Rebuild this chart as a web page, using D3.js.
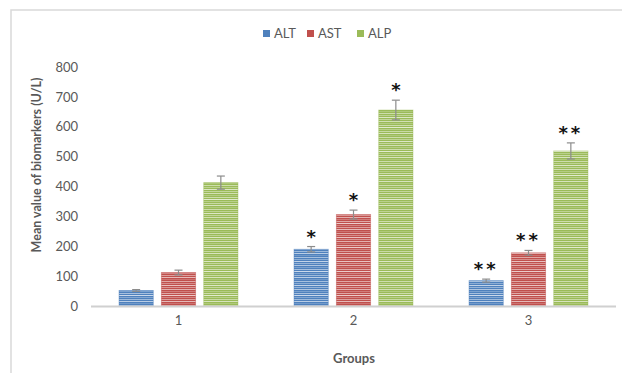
<!DOCTYPE html>
<html><head><meta charset="utf-8">
<script src="https://cdn.jsdelivr.net/npm/d3@7"></script>
<style>html,body{margin:0;padding:0;background:#fff;}svg{display:block;}</style>
</head><body>
<svg id="chart" width="622" height="373"></svg>
<script>
const groups = ["1", "2", "3"];
const seriesNames = ["ALT", "AST", "ALP"];
const ALT = [52, 190, 85];
const AST = [112, 306, 178];
const ALP = [413, 656, 519];
const ALT_err = [3, 9, 5];
const AST_err = [8, 15, 8];
const ALP_err = [22, 33, 27];
const ALT_sig = ["", "*", "**"];
const AST_sig = ["", "*", "**"];
const ALP_sig = ["", "*", "**"];
const yTicks = [0, 100, 200, 300, 400, 500, 600, 700, 800];
const colors = ["#4F81BD", "#C0504D", "#9BBB59"];

const values = [ALT, AST, ALP];
const errs = [ALT_err, AST_err, ALP_err];
const sigs = [ALT_sig, AST_sig, ALP_sig];

const svg = d3.select("#chart");
const font = "Lato, 'Open Sans', sans-serif";
const grey = "#595959";

// frame
svg.append("rect").attr("x", 11).attr("y", 10).attr("width", 640).attr("height", 400)
  .attr("fill", "none").attr("stroke", "#d9d9d9").attr("stroke-width", 1.5);

// patterns
const defs = svg.append("defs");
colors.forEach((c, i) => {
  const p = defs.append("pattern").attr("id", "pat" + i).attr("patternUnits", "userSpaceOnUse")
    .attr("width", 10).attr("height", 24);
  p.append("rect").attr("width", 10).attr("height", 24).attr("fill", c);
  const light = [0.55, 0.25, 0.5, 0.7, 0.3, 0.45, 0.6, 0.2, 0.5, 0.35, 0.65, 0.4];
  light.forEach((o, k) => {
    p.append("rect").attr("x", 0).attr("y", k * 2 + 1).attr("width", 10).attr("height", 1)
      .attr("fill", "#fff").attr("opacity", o);
  });
});

const y = d3.scaleLinear().domain([0, 800]).range([306, 67]);
const x0 = d3.scaleBand().domain(groups).range([91, 616]).paddingInner(0.32).paddingOuter(0.16);
const x1 = d3.scaleBand().domain(seriesNames).range([0, x0.bandwidth()]).paddingInner(0.19);

// y tick labels
const yAxis = d3.axisLeft(y).tickValues(yTicks).tickSize(0).tickPadding(0);
const gy = svg.append("g").attr("transform", "translate(78,0)").call(yAxis);
gy.select(".domain").remove();
gy.selectAll("text").attr("font-family", font).attr("font-size", 13).attr("fill", grey);

// bars
seriesNames.forEach((s, si) => {
  const g = svg.append("g");
  groups.forEach((grp, gi) => {
    const v = values[si][gi];
    const bx = x0(grp) + x1(s);
    g.append("rect").attr("x", bx).attr("y", y(v)).attr("width", x1.bandwidth())
      .attr("height", y(0) - y(v)).attr("fill", `url(#pat${si})`)
      .attr("stroke", colors[si]).attr("stroke-opacity", 0.5).attr("stroke-width", 0.8);
    const cx = bx + x1.bandwidth() / 2;
    const e = errs[si][gi];
    const eg = g.append("g").attr("stroke", "#8c8c8c").attr("stroke-width", 1.2);
    eg.append("line").attr("x1", cx).attr("x2", cx).attr("y1", y(v + e)).attr("y2", y(v - e));
    eg.append("line").attr("x1", cx - 4).attr("x2", cx + 4).attr("y1", y(v + e)).attr("y2", y(v + e));
    eg.append("line").attr("x1", cx - 4).attr("x2", cx + 4).attr("y1", y(v - e)).attr("y2", y(v - e));
    const sig = sigs[si][gi];
    if (sig) {
      g.append("text").attr("x", cx).attr("y", y(v + e) - 4).attr("text-anchor", "middle")
        .attr("font-family", "'DejaVu Sans', sans-serif").attr("font-size", 18).attr("font-weight", "bold")
        .attr("letter-spacing", sig.length > 1 ? 3 : 0)
        .attr("fill", "#111").text(sig);
    }
  });
});

// baseline
svg.append("line").attr("x1", 91).attr("x2", 616).attr("y1", y(0) + 0.5).attr("y2", y(0) + 0.5)
  .attr("stroke", "#d0d0d0").attr("stroke-width", 2);

// x labels
const xAxis = d3.axisBottom(x0).tickSize(0).tickPadding(0);
const gx = svg.append("g").attr("transform", "translate(0,316)").call(xAxis);
gx.select(".domain").remove();
gx.selectAll("text").attr("font-family", font).attr("font-size", 13).attr("fill", grey);

// axis titles
svg.append("text").attr("x", 354).attr("y", 363).attr("text-anchor", "middle")
  .attr("font-family", font).attr("font-size", 13).attr("font-weight", "bold").attr("fill", grey).text("Groups");
svg.append("text").attr("transform", "translate(41,165) rotate(-90)").attr("text-anchor", "middle")
  .attr("font-family", font).attr("font-size", 12.5).attr("font-weight", "bold").attr("fill", grey)
  .text("Mean value of biomarkers (U/L)");

// legend
const legX = [263, 307, 357];
seriesNames.forEach((s, i) => {
  const lg = svg.append("g").attr("transform", `translate(${legX[i]},30)`);
  lg.append("rect").attr("width", 7).attr("height", 7).attr("fill", colors[i]);
  lg.append("text").attr("x", 11).attr("y", 7.5).attr("font-family", font).attr("font-size", 13)
    .attr("fill", grey).text(s);
});
</script>
</body></html>
